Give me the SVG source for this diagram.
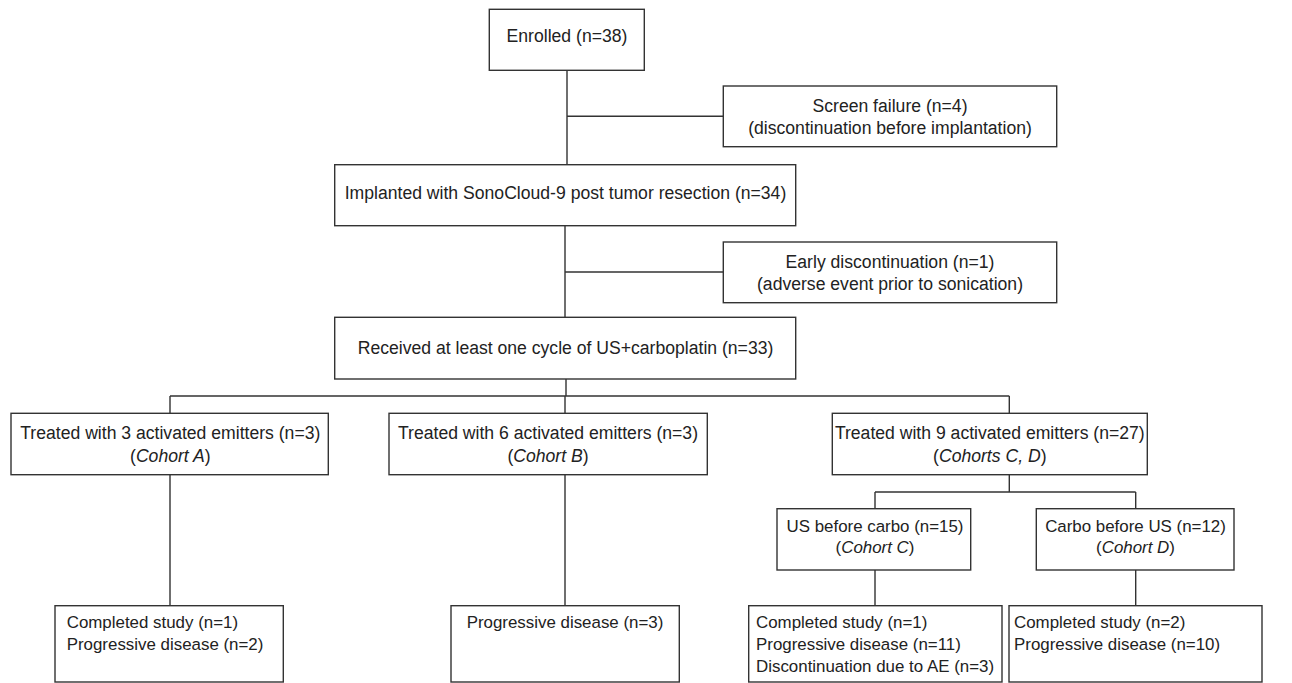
<svg xmlns="http://www.w3.org/2000/svg" width="1292" height="683" viewBox="0 0 1292 683">
<style>
.b{fill:#fff;stroke:#333;stroke-width:1.4}
.c{fill:none;stroke:#333;stroke-width:1.4}
text{font-family:"Liberation Sans",Arial,sans-serif;font-size:17.6px;fill:#222}
.s text{font-size:16.9px}
.m{text-anchor:middle}
.i{font-style:italic}
</style>
<rect width="1292" height="683" fill="#fff"/>
<g id="connectors">
<path class="c" d="M567 70V165M567 116.3H723.3M565 226V317M565 272H723.3M566 379V396M170 396H1009.3M170 396V413M565 396V413M1009.3 396V413M170 475V606M565 475V606M1009.3 475V492M875 492H1135.7M875 492V509M1135.7 492V509M875 570V606M1135.7 570V606"/>
</g>
<g id="enrolled"><rect class="b" x="489.3" y="9.3" width="155" height="61"/><text class="m" x="567" y="41.7">Enrolled (n=38)</text></g>
<g id="screen"><rect class="b" x="723.3" y="86" width="333.4" height="60.7"/><text class="m" x="890" y="112.3">Screen failure (n=4)</text><text class="m" x="890" y="134">(discontinuation before implantation)</text></g>
<g id="implanted"><rect class="b" x="334.7" y="164.7" width="461" height="61"/><text class="m" x="565.5" y="199">Implanted with SonoCloud-9 post tumor resection (n=34)</text></g>
<g id="early"><rect class="b" x="723.3" y="242" width="333.4" height="60.7"/><text class="m" x="890" y="268.3">Early discontinuation (n=1)</text><text class="m" x="890" y="290">(adverse event prior to sonication)</text></g>
<g id="received"><rect class="b" x="334.7" y="317.3" width="461" height="61.7"/><text class="m" x="565.5" y="354">Received at least one cycle of US+carboplatin (n=33)</text></g>
<g id="cohortA"><rect class="b" x="11" y="413.3" width="317.3" height="61.4"/><text class="m" x="170.3" y="439.3">Treated with 3 activated emitters (n=3)</text><text class="m" x="170.3" y="461.7">(<tspan class="i">Cohort A</tspan>)</text></g>
<g id="cohortB"><rect class="b" x="389" y="413.3" width="318.3" height="61.4"/><text class="m" x="548" y="439.3">Treated with 6 activated emitters (n=3)</text><text class="m" x="548" y="461.7">(<tspan class="i">Cohort B</tspan>)</text></g>
<g id="cohortCD"><rect class="b" x="832.3" y="413.3" width="315" height="61.4"/><text class="m" x="989.8" y="439.3">Treated with 9 activated emitters (n=27)</text><text class="m" x="989.8" y="461.7">(<tspan class="i">Cohorts C, D</tspan>)</text></g>
<g id="cohortC" class="s"><rect class="b" x="777" y="508.7" width="193.7" height="61.3"/><text class="m" x="875" y="531.7">US before carbo (n=15)</text><text class="m" x="875" y="553.3">(<tspan class="i">Cohort C</tspan>)</text></g>
<g id="cohortD" class="s"><rect class="b" x="1036.3" y="508.7" width="197.7" height="61.3"/><text class="m" x="1135.5" y="531.7">Carbo before US (n=12)</text><text class="m" x="1135.5" y="553.3">(<tspan class="i">Cohort D</tspan>)</text></g>
<g id="outA" class="s"><rect class="b" x="55" y="605.7" width="228.3" height="76.3"/><text x="66.7" y="628">Completed study (n=1)</text><text x="66.7" y="650">Progressive disease (n=2)</text></g>
<g id="outB" class="s"><rect class="b" x="451" y="605.7" width="228.3" height="76.3"/><text class="m" x="565" y="628">Progressive disease (n=3)</text></g>
<g id="outC" class="s"><rect class="b" x="748.7" y="605.7" width="253.3" height="76.3"/><text x="756" y="628">Completed study (n=1)</text><text x="756" y="650">Progressive disease (n=11)</text><text x="756" y="671.7">Discontinuation due to AE (n=3)</text></g>
<g id="outD" class="s"><rect class="b" x="1009" y="605.7" width="253" height="76.3"/><text x="1014" y="628">Completed study (n=2)</text><text x="1014" y="650">Progressive disease (n=10)</text></g>
</svg>
